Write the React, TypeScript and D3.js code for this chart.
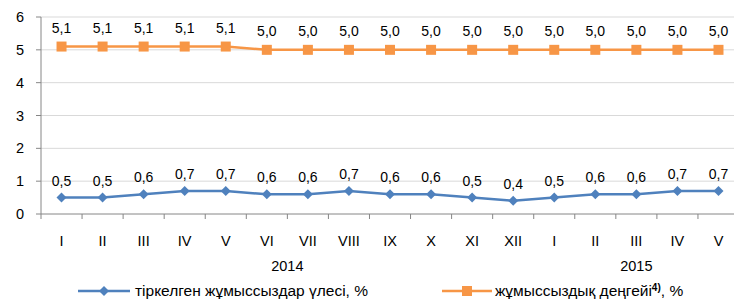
import React from "react";
import * as d3 from "d3";

const months = ["I", "II", "III", "IV", "V", "VI", "VII", "VIII", "IX", "X", "XI", "XII", "I", "II", "III", "IV", "V"];
const years = [
  { label: "2014", from: 0, to: 11 },
  { label: "2015", from: 12, to: 16 },
];
const registered = [0.5, 0.5, 0.6, 0.7, 0.7, 0.6, 0.6, 0.7, 0.6, 0.6, 0.5, 0.4, 0.5, 0.6, 0.6, 0.7, 0.7];
const unemployment = [5.1, 5.1, 5.1, 5.1, 5.1, 5.0, 5.0, 5.0, 5.0, 5.0, 5.0, 5.0, 5.0, 5.0, 5.0, 5.0, 5.0];
const yTicks = [0, 1, 2, 3, 4, 5, 6];

const W = 734;
const H = 302;
const left = 41;
const top = 17;
const bottom = 214;
const step = 41.06;

const BLUE = "#4F81BD";
const ORANGE = "#F79646";
const font = "Arial, 'Liberation Sans', sans-serif";

export default function App() {
  const x = d3
    .scaleBand<number>()
    .domain(months.map((_, i) => i))
    .range([left, left + step * months.length]);
  const y = d3.scaleLinear().domain([0, 6]).range([bottom, top]);
  const cx = (i: number) => (x(i) as number) + x.bandwidth() / 2;

  const line = d3
    .line<number>()
    .x((_, i) => cx(i))
    .y((d) => y(d));

  const fmt = (v: number) => v.toFixed(1).replace(".", ",");

  return (
    <svg width={W} height={H} style={{ position: "absolute", left: 0, top: 0, background: "#fff" }} fontFamily={font}>
      {yTicks.map((t) => (
        <g key={t}>
          {t > 0 && <line x1={left} x2={W} y1={y(t)} y2={y(t)} stroke="#D9D9D9" strokeWidth={1} />}
          <line x1={left - 5} x2={left} y1={y(t)} y2={y(t)} stroke="#868686" />
          <text x={24} y={y(t)} dy="0.35em" textAnchor="end" fontSize={14.5} fill="#000">
            {t}
          </text>
        </g>
      ))}
      <line x1={left} x2={left} y1={top} y2={bottom} stroke="#868686" />
      <line x1={left} x2={W} y1={bottom} y2={bottom} stroke="#868686" />
      {d3.range(months.length + 1).map((i) => (
        <line key={i} x1={left + i * step} x2={left + i * step} y1={bottom} y2={bottom + 5} stroke="#868686" />
      ))}
      {months.map((m, i) => (
        <text key={i} x={cx(i)} y={246} textAnchor="middle" fontSize={14.5} fill="#000">
          {m}
        </text>
      ))}
      {years.map((yr) => (
        <text key={yr.label} x={(cx(yr.from) + cx(yr.to)) / 2} y={271} textAnchor="middle" fontSize={14.5} fill="#000">
          {yr.label}
        </text>
      ))}

      <path d={line(unemployment) || ""} fill="none" stroke={ORANGE} strokeWidth={2.5} />
      {unemployment.map((v, i) => (
        <g key={i}>
          <rect x={cx(i) - 5} y={y(v) - 5} width={10} height={10} fill={ORANGE} />
          <text x={cx(i)} y={y(v) - 14} textAnchor="middle" fontSize={14} fill="#000">
            {fmt(v)}
          </text>
        </g>
      ))}

      <path d={line(registered) || ""} fill="none" stroke={BLUE} strokeWidth={2.5} />
      {registered.map((v, i) => (
        <g key={i}>
          <path d={`M${cx(i)},${y(v) - 5}l5,5l-5,5l-5,-5z`} fill={BLUE} />
          <text x={cx(i)} y={y(v) - 12} textAnchor="middle" fontSize={14} fill="#000">
            {fmt(v)}
          </text>
        </g>
      ))}

      <g transform="translate(78,291)">
        <line x1={0} x2={52} y1={0} y2={0} stroke={BLUE} strokeWidth={2.5} />
        <path d="M26,-5l5,5l-5,5l-5,-5z" fill={BLUE} />
        <text x={57} y={0} dy="0.35em" fontSize={15.5} fill="#000">
          тіркелген жұмыссыздар үлесі, %
        </text>
      </g>
      <g transform="translate(442,291)">
        <line x1={0} x2={50} y1={0} y2={0} stroke={ORANGE} strokeWidth={2.5} />
        <rect x={20} y={-5} width={10} height={10} fill={ORANGE} />
        <text x={53} y={0} dy="0.35em" fontSize={15.5} fill="#000">
          жұмыссыздық деңгейі<tspan fontSize={10} fontWeight="bold" dy="-5">4)</tspan>
          <tspan dy="5">, %</tspan>
        </text>
      </g>
    </svg>
  );
}
